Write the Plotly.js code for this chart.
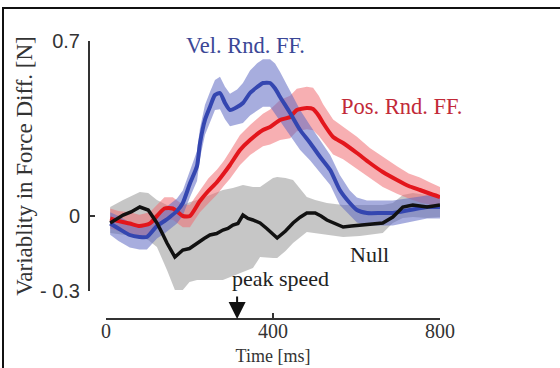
<!DOCTYPE html>
<html>
<head>
<meta charset="utf-8">
<script src="https://cdn.plot.ly/plotly-3.0.1.min.js"></script>
<style>
  html, body { margin: 0; padding: 0; background: #fff; }
  #wrap { position: relative; width: 560px; height: 368px; overflow: hidden; }
  #chart { position: absolute; left: 0; top: 0; width: 560px; height: 368px; }
  #frame { position: absolute; left: 2px; top: 7px; width: 600px; height: 400px;
           border-top: 2px solid #111; border-left: 2px solid #111; pointer-events: none; }
</style>
</head>
<body>
<div id="wrap"><div id="chart"></div><div id="frame"></div></div>
<script>
// ---- Data (time in ms, force-difference variability in N) ----
const xTickVals = [0, 400, 800];
const xTickText = ['0', '400', '800'];
const yTickVals = [-0.3, 0, 0.7];
const yTickText = ['- 0.3', '0', '0.7'];
const peakSpeed = 314;

// Null (black line, grey band)
const nullX = [10, 25, 41, 60, 81, 101, 122, 135, 146, 165, 184, 200, 218, 235, 249, 265, 280, 292, 304, 316, 328, 340, 352, 369, 385, 400, 410, 430, 448, 465, 481, 501, 515, 529, 548, 568, 588, 608, 635, 663, 687, 700, 711, 735, 750, 769, 785, 800];
const nullMean = [-0.028, -0.012, 0.004, 0.016, 0.036, 0.024, -0.028, -0.07, -0.108, -0.164, -0.136, -0.13, -0.108, -0.09, -0.076, -0.07, -0.056, -0.05, -0.036, -0.03, 0.004, -0.01, -0.016, -0.028, -0.05, -0.075, -0.088, -0.06, -0.028, -0.005, 0.012, 0.012, 0.0, -0.016, -0.03, -0.044, -0.04, -0.036, -0.032, -0.028, -0.004, 0.02, 0.036, 0.044, 0.04, 0.036, 0.04, 0.044];
const nullBandX = [10, 41, 81, 101, 122, 146, 165, 184, 200, 218, 249, 280, 304, 328, 352, 369, 400, 410, 430, 448, 481, 501, 529, 568, 608, 663, 687, 711, 735, 769, 800];
const nullUpper = [0.036, 0.064, 0.096, 0.092, 0.064, 0.044, 0.024, 0.044, 0.055, 0.064, 0.084, 0.104, 0.112, 0.124, 0.116, 0.116, 0.152, 0.156, 0.152, 0.144, 0.076, 0.064, 0.052, 0.044, 0.044, 0.044, 0.052, 0.084, 0.092, 0.084, 0.084];
const nullLower = [-0.068, -0.076, -0.084, -0.096, -0.124, -0.216, -0.296, -0.296, -0.264, -0.256, -0.256, -0.256, -0.24, -0.224, -0.208, -0.164, -0.168, -0.168, -0.14, -0.108, -0.064, -0.068, -0.076, -0.084, -0.08, -0.068, -0.028, -0.008, -0.004, -0.008, -0.004];

// Velocity-random force field (blue)
const velX = [10, 30, 57, 80, 98, 122, 140, 153, 170, 184, 201, 218, 225, 237, 249, 261, 273, 285, 297, 314, 328, 345, 362, 376, 393, 405, 417, 441, 465, 489, 513, 537, 560, 584, 601, 625, 660, 687, 728, 769, 800];
const velMean = [-0.03, -0.05, -0.076, -0.084, -0.084, -0.04, -0.02, -0.004, 0.02, 0.052, 0.13, 0.2, 0.29, 0.384, 0.436, 0.484, 0.492, 0.452, 0.424, 0.436, 0.452, 0.492, 0.516, 0.532, 0.532, 0.51, 0.476, 0.412, 0.344, 0.292, 0.236, 0.184, 0.104, 0.052, 0.024, 0.012, 0.012, 0.012, 0.024, 0.036, 0.036];
const velSE = [0.045, 0.05, 0.05, 0.05, 0.05, 0.05, 0.05, 0.05, 0.05, 0.05, 0.055, 0.06, 0.06, 0.06, 0.06, 0.06, 0.065, 0.065, 0.065, 0.07, 0.08, 0.09, 0.095, 0.095, 0.095, 0.1, 0.1, 0.09, 0.08, 0.07, 0.065, 0.06, 0.06, 0.05, 0.05, 0.05, 0.05, 0.05, 0.048, 0.046, 0.046];

// Position-random force field (red)
const posX = [10, 30, 57, 80, 105, 122, 140, 160, 184, 201, 225, 245, 266, 282, 297, 321, 345, 376, 393, 417, 441, 457, 481, 496, 510, 520, 544, 568, 601, 632, 663, 697, 725, 752, 775, 800];
const posMean = [-0.01, -0.02, -0.03, -0.04, -0.03, 0.0, 0.03, 0.03, 0.0, 0.0, 0.06, 0.1, 0.136, 0.17, 0.204, 0.264, 0.304, 0.344, 0.356, 0.384, 0.396, 0.424, 0.432, 0.428, 0.4, 0.372, 0.316, 0.292, 0.252, 0.212, 0.176, 0.144, 0.12, 0.104, 0.09, 0.076];
const posSE = [0.04, 0.04, 0.045, 0.045, 0.045, 0.045, 0.045, 0.045, 0.045, 0.045, 0.045, 0.05, 0.05, 0.05, 0.055, 0.06, 0.06, 0.065, 0.07, 0.08, 0.085, 0.085, 0.085, 0.085, 0.08, 0.075, 0.07, 0.065, 0.065, 0.06, 0.06, 0.055, 0.05, 0.05, 0.045, 0.04];

// ---- Build traces ----
function band(x, lo, hi, color) {
  return { x: x.concat(x.slice().reverse()), y: hi.concat(lo.slice().reverse()),
    type: 'scatter', mode: 'lines', fill: 'toself', fillcolor: color,
    line: { width: 0, color: 'rgba(0,0,0,0)' }, hoverinfo: 'skip', showlegend: false };
}
function line(x, y, color, w) {
  return { x: x, y: y, type: 'scatter', mode: 'lines',
           line: { color: color, width: w, shape: 'spline', smoothing: 0.6 }, showlegend: false };
}
const velLo = velMean.map((m, i) => m - velSE[i]);
const velHi = velMean.map((m, i) => m + velSE[i]);
const posLo = posMean.map((m, i) => m - posSE[i]);
const posHi = posMean.map((m, i) => m + posSE[i]);

const traces = [
  band(nullBandX, nullLower, nullUpper, 'rgba(195,195,195,0.95)'),
  band(posX, posLo, posHi, 'rgba(240,110,115,0.55)'),
  band(velX, velLo, velHi, 'rgba(95,105,195,0.55)'),
  line(posX, posMean, '#e3161c', 4),
  line(velX, velMean, '#3446b0', 4),
  { x: nullX, y: nullMean, type: 'scatter', mode: 'lines', line: { color: '#111', width: 3.5 }, showlegend: false }
];

const serif = 'Liberation Serif, DejaVu Serif, serif';
const layout = {
  width: 560, height: 368,
  paper_bgcolor: '#fff', plot_bgcolor: 'rgba(0,0,0,0)',
  margin: { l: 89, r: 120, t: 41, b: 49 },
  showlegend: false,
  xaxis: {
    range: [0, 800], domain: [17 / 351, 1], anchor: 'free', position: 0,
    tickvals: xTickVals, ticktext: xTickText,
    ticks: 'inside', ticklen: 5, tickwidth: 1.5, tickcolor: '#333',
    showline: true, linecolor: '#333', linewidth: 2,
    showgrid: false, zeroline: false, ticklabelstandoff: -6,
    tickfont: { family: serif, size: 20, color: '#333' },
    title: { text: 'Time [ms]', font: { family: serif, size: 18, color: '#333' }, standoff: 7 }
  },
  yaxis: {
    range: [-0.3, 0.7], domain: [28 / 278, 1], anchor: 'free', position: 0,
    tickvals: yTickVals, ticktext: yTickText,
    ticks: 'inside', ticklen: 5, tickwidth: 1.5, tickcolor: '#333',
    showline: true, linecolor: '#333', linewidth: 2,
    showgrid: false, zeroline: false, ticklabelstandoff: 4,
    tickfont: { family: 'Liberation Sans, Arial, sans-serif', size: 20, color: '#333' },
    title: { text: 'Variablity in Force Diff. [N]', font: { family: serif, size: 23, color: '#333' }, standoff: 0 }
  },
  annotations: [
    { x: 335, y: 0.684, xref: 'x', yref: 'y', text: 'Vel. Rnd. FF.', showarrow: false,
      font: { family: serif, size: 22.5, color: '#3b4796' } },
    { x: 707, y: 0.44, xref: 'x', yref: 'y', text: 'Pos. Rnd. FF.', showarrow: false,
      font: { family: serif, size: 22.5, color: '#c22a38' } },
    { x: 632, y: -0.152, xref: 'x', yref: 'y', text: 'Null', showarrow: false,
      font: { family: serif, size: 22, color: '#222' } },
    { x: 417, y: -0.248, xref: 'x', yref: 'y', text: 'peak speed', showarrow: false,
      font: { family: serif, size: 22, color: '#222' } },
    { x: peakSpeed, y: 0, xref: 'x', yref: 'paper', text: '', showarrow: true,
      ax: 0, ay: -24, arrowhead: 2, arrowsize: 1.7, arrowwidth: 2, arrowcolor: '#111', standoff: 0 }
  ]
};

Plotly.newPlot('chart', traces, layout, { staticPlot: true, displayModeBar: false });
</script>
</body>
</html>
